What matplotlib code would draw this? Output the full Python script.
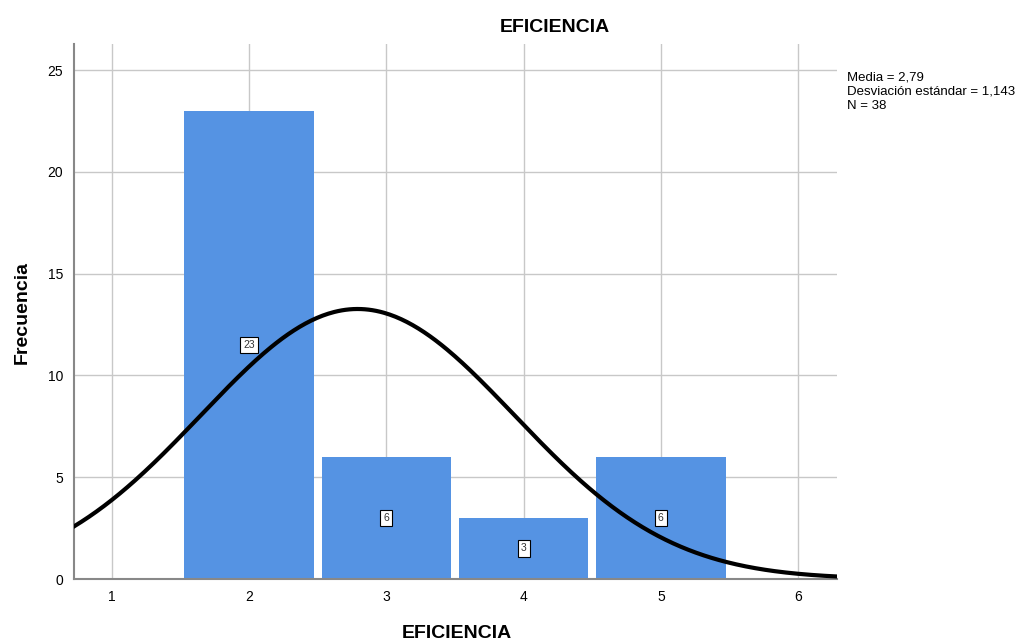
import numpy as np
import matplotlib
matplotlib.use("Agg")
import matplotlib.pyplot as plt

categories = [2, 3, 4, 5]
counts = [23, 6, 3, 6]
mean = 2.79
sd = 1.143
n = 38
xticks = [1, 2, 3, 4, 5, 6]
yticks = [0, 5, 10, 15, 20, 25]

plt.rcParams['font.family'] = ['Liberation Sans', 'DejaVu Sans']

fig = plt.figure(figsize=(10.34, 6.44), dpi=100)
ax = fig.add_axes([0.0716, 0.1009, 0.7379, 0.8308])

ax.set_axisbelow(True)
ax.grid(True, color='#c8c8c8', linewidth=1.0)
ax.bar(categories, counts, width=0.945, color='#5593e3', edgecolor='none', zorder=2)

xs = np.linspace(0.72, 6.29, 400)
ys = n * 1.0 / (sd * np.sqrt(2 * np.pi)) * np.exp(-0.5 * ((xs - mean) / sd) ** 2)
ax.plot(xs, ys, color='black', linewidth=3, zorder=4)

for c, v in zip(categories, counts):
    ax.text(c, v / 2, str(v), ha='center', va='center', fontsize=7.5,
            color='#333333', zorder=5,
            bbox=dict(boxstyle='square,pad=0.3', facecolor='white', edgecolor='black', linewidth=0.8))

ax.set_xlim(0.723, 6.284)
ax.set_ylim(0, 26.28)
ax.set_xticks(xticks)
ax.set_yticks(yticks)
ax.tick_params(length=0, labelsize=10, pad=8)
for s in ['top', 'right']:
    ax.spines[s].set_visible(False)
for s in ['left', 'bottom']:
    ax.spines[s].set_color('#888888')
    ax.spines[s].set_linewidth(1.5)

fig.text(0.537, 1 - 28 / 644, 'EFICIENCIA', fontsize=14, fontweight='bold', ha='center', va='center')
fig.text(0.442, 1 - 633 / 644, 'EFICIENCIA', fontsize=14, fontweight='bold', ha='center', va='center')
fig.text(22 / 1034, 1 - 313 / 644, 'Frecuencia', fontsize=14, fontweight='bold', ha='center', va='center',
         rotation=90)

fig.text(0.819, 1 - 71 / 644, 'Media = 2,79\nDesviación estándar = 1,143\nN = 38',
         fontsize=9.5, va='top', ha='left', linespacing=1.3)

fig.savefig('out.png', dpi=100)
